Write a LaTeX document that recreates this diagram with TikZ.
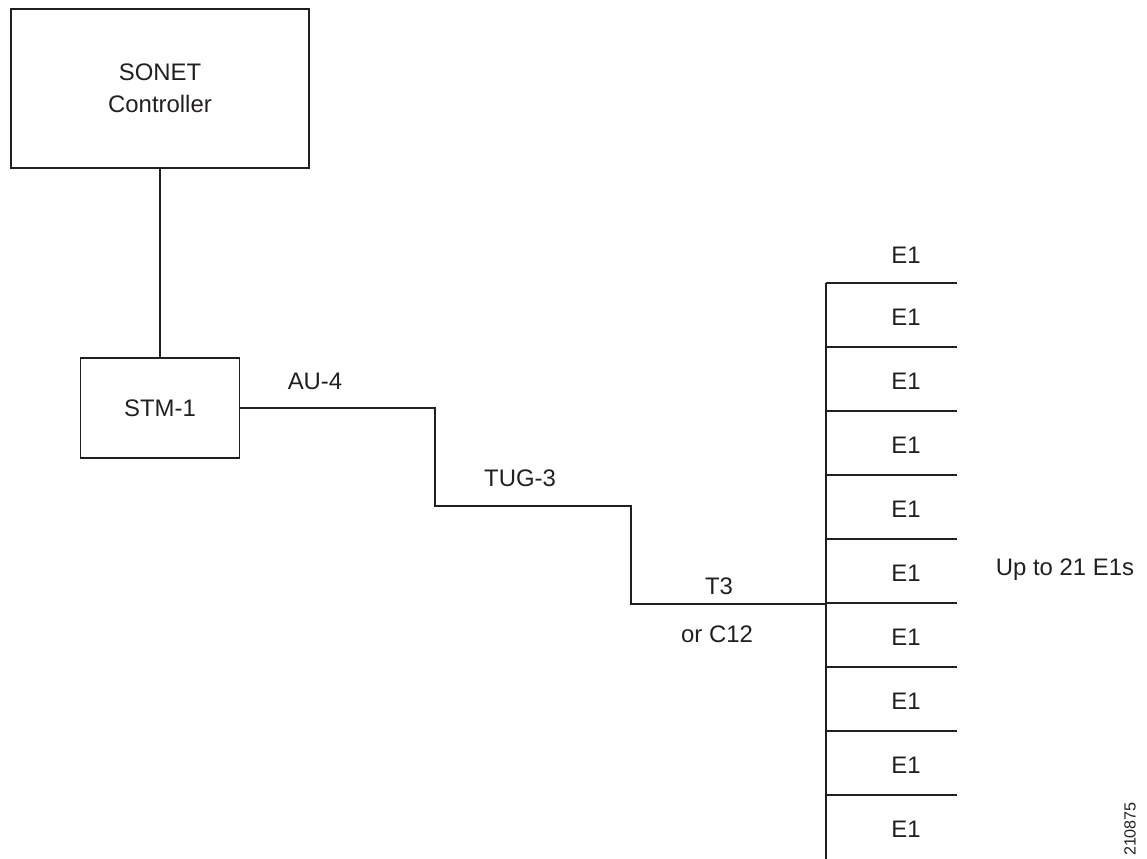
\documentclass[tikz,border=0pt]{standalone}
\usepackage{fontspec}
\setmainfont{Liberation Sans}
\definecolor{lnblack}{RGB}{35,31,32}
\usetikzlibrary{positioning}

\begin{document}
\begin{tikzpicture}[x=0.025cm, y=-0.025cm, line width=0.8pt,
  every node/.style={font=\fontsize{17}{23}\selectfont, text=lnblack},
  ctrlbox/.style={draw=lnblack, align=center, inner sep=0pt},
  lbl/.style={inner sep=0pt}]

\useasboundingbox (0,0) rectangle (1147,859);

% --- Boxes ---
\node[ctrlbox, minimum width=7.45cm, minimum height=3.975cm] (sonet) at (160,88.5)
  {SONET\\Controller};
\node[ctrlbox, minimum width=3.975cm, minimum height=2.5cm] (stm) at (160,408) {STM-1};

\draw[lnblack] (sonet.south) -- (stm.north);

% --- Staircase to the E1 bus ---
\coordinate (au) at (435,506);
\coordinate (tug) at (631,604);
\coordinate (tap) at (826,604);
\draw[lnblack] (stm.east) -| (au) -| (tug) -- (tap);

\node[lbl] (au-lbl) at (315,381) {AU-4};
\node[lbl] (tug-lbl) at (520,478) {TUG-3};
\node[lbl] (t3-lbl) at (719,586) {T3};
\node[lbl] (c12-lbl) at (717,634) {or C12};

% --- E1 bus ---
\coordinate (bus-top) at (826,283);
\coordinate (bus-bot) at (826,859);
\draw[lnblack] (bus-top) -- (bus-bot);
\foreach \k in {0,...,8}{
  \draw[lnblack] (826,283+64*\k) -- (957,283+64*\k);
}
\node[lbl] (e1-top) at (906,255) {E1};
\foreach \k in {0,...,8}{
  \node[lbl] (e1-\k) at (906,317+64*\k) {E1};
}
\node[lbl] (upto) at (1065,570) {Up to 21 E1s};

% figure number
\node[lbl, rotate=90, font=\fontsize{11.5}{13}\selectfont] (fignum) at (1130,829) {210875};

\end{tikzpicture}
\end{document}
